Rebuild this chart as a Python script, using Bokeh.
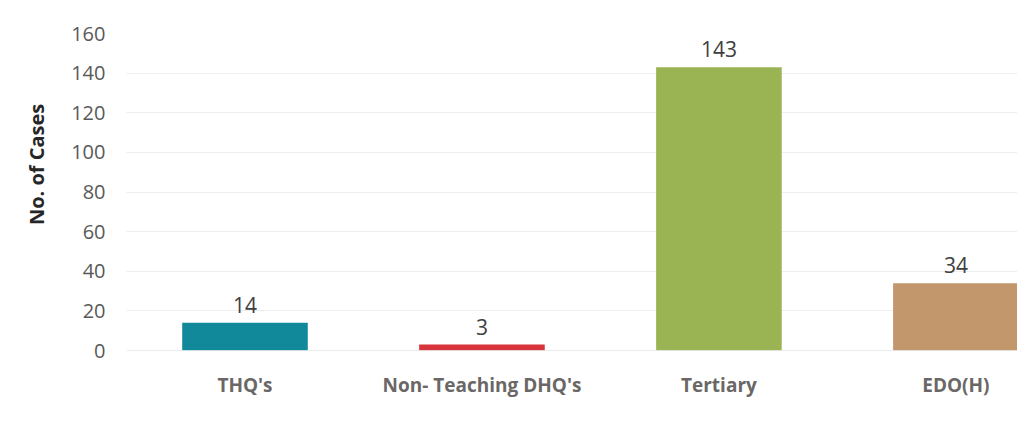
from bokeh.plotting import figure
from bokeh.models import ColumnDataSource, Range1d, FixedTicker, LabelSet, Span, Title
from bokeh.core.properties import value
from bokeh.embed import file_html
from bokeh.resources import INLINE

categories = ["THQ's", "Non- Teaching DHQ's", "Tertiary", "EDO(H)"]
cases = [14, 3, 143, 34]
colors = ["#12899b", "#d7343c", "#9bb453", "#c2976b"]
y_ticks = [0, 20, 40, 60, 80, 100, 120, 140, 160]

xs = list(range(len(categories)))
src = ColumnDataSource(dict(x=xs, top=cases, color=colors, label=[str(v) for v in cases]))

p = figure(width=1017, height=405, output_backend="svg", toolbar_location=None,
           x_range=Range1d(-0.5, 3.26), y_range=Range1d(0, 160),
           min_border_left=126, min_border_right=0, min_border_top=33, min_border_bottom=55)
p.outline_line_color = None
p.background_fill_color = "white"

p.vbar(x="x", top="top", width=0.53, bottom=0, color="color", source=src, line_color=None)

labels = LabelSet(x="x", y="top", text="label", source=src, text_align="center",
                  text_baseline="alphabetic", y_offset=10, text_font=value("Open Sans"),
                  text_font_size="21px", text_color="#404040")
p.add_layout(labels)

p.add_layout(Span(location=0, dimension="width", line_color="#d9d9d9", line_width=1))

p.xaxis.ticker = FixedTicker(ticks=xs)
p.xaxis.major_label_overrides = {i: c for i, c in enumerate(categories)}
p.xaxis.axis_line_color = None
p.xaxis.major_tick_line_color = None
p.xaxis.minor_tick_line_color = None
p.xaxis.major_label_standoff = 15
p.xaxis.major_label_text_font = "Open Sans"
p.xaxis.major_label_text_font_style = "bold"
p.xaxis.major_label_text_font_size = "19px"
p.xaxis.major_label_text_color = "#6b6766"

p.yaxis.ticker = FixedTicker(ticks=y_ticks)
p.yaxis.axis_line_color = None
p.yaxis.major_tick_line_color = None
p.yaxis.minor_tick_line_color = None
p.yaxis.major_label_standoff = 15
p.yaxis.major_label_text_font = "Open Sans"
p.yaxis.major_label_text_font_size = "20px"
p.yaxis.major_label_text_color = "#595959"

ytitle = Title(text="No. of  Cases", align="right", offset=65, standoff=38,
               text_font="Open Sans", text_font_style="bold", text_font_size="20px",
               text_color="#262626")
p.add_layout(ytitle, "left")

p.xgrid.grid_line_color = None
p.ygrid.grid_line_color = "#eeeeee"

open("out.html", "w").write(file_html(p, INLINE))
